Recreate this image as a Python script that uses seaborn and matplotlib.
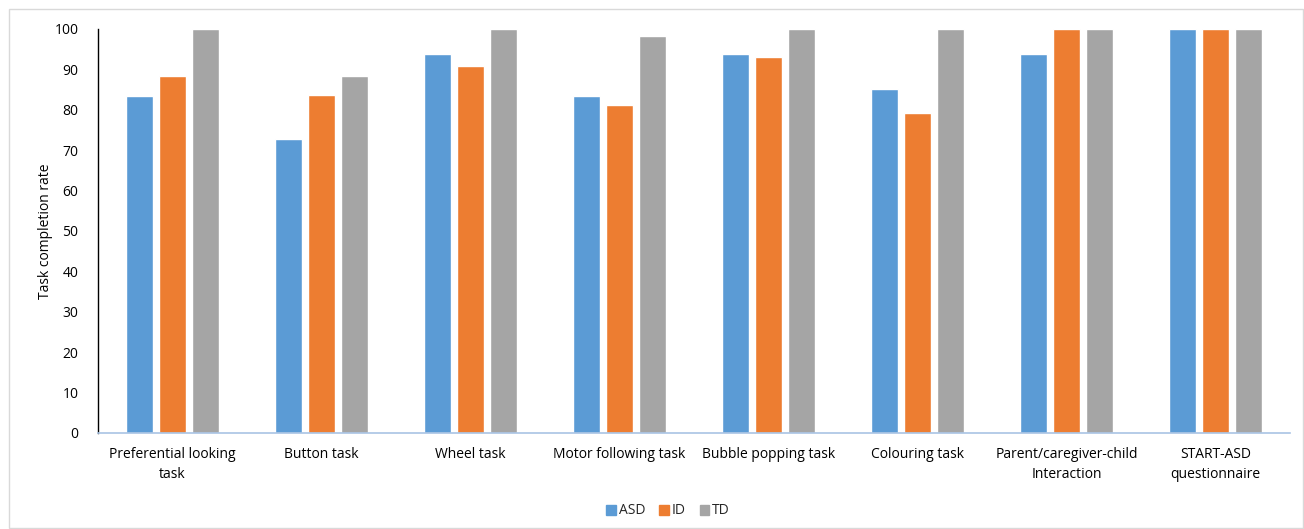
import matplotlib
matplotlib.use("Agg")
import matplotlib.pyplot as plt
import seaborn as sns
import pandas as pd
from matplotlib.patches import Rectangle

categories = ["Preferential looking\ntask", "Button task", "Wheel task", "Motor following task",
              "Bubble popping task", "Colouring task", "Parent/caregiver-child\nInteraction",
              "START-ASD\nquestionnaire"]
asd = [83.3, 72.7, 93.8, 83.3, 93.8, 85.2, 93.8, 100]
id_ = [88.3, 83.6, 90.8, 81.2, 93.1, 79.2, 100, 100]
td = [100, 88.3, 100, 98.2, 100, 100, 100, 100]
groups = ["ASD", "ID", "TD"]
colors = ["#5B9BD5", "#ED7D31", "#A5A5A5"]

rows = []
for c, a, i, t in zip(categories, asd, id_, td):
    rows += [(c, "ASD", a), (c, "ID", i), (c, "TD", t)]
df = pd.DataFrame(rows, columns=["cat", "group", "value"])

sns.set_style("white")
plt.rcParams["font.family"] = ["Open Sans", "DejaVu Sans"]

fig = plt.figure(figsize=(13.04, 5.29), dpi=100)
ax = fig.add_axes([98/1304, 1-433/529, (1290-98)/1304, (433-29)/529])
sns.barplot(data=df, x="cat", y="value", hue="group", order=categories, hue_order=groups,
            palette=colors, width=0.665, gap=0.21, ax=ax, saturation=1, errorbar=None)

ax.set_ylim(0, 100)
ax.set_yticks(range(0, 101, 10))
ax.set_xlim(-0.5, len(categories) - 0.5)
ax.set_xlabel("")
ax.set_ylabel("Task completion rate", fontsize=10, color="#000000", labelpad=1)
ax.tick_params(axis="both", length=0, labelsize=10, colors="#000000")
ax.tick_params(axis="x", pad=10)
ax.tick_params(axis="y", pad=14)
for lbl in ax.get_xticklabels():
    lbl.set_linespacing(1.5)
for s in ["top", "right"]:
    ax.spines[s].set_visible(False)
ax.spines["left"].set_color("#000000")
ax.spines["left"].set_linewidth(1.0)
ax.spines["bottom"].set_color("#A9C4E4")
ax.spines["bottom"].set_linewidth(1.2)

ax.legend_.remove()
handles = [Rectangle((0, 0), 1, 1, color=c) for c in colors]
fig.legend(handles, groups, loc="center", bbox_to_anchor=(668/1304, 1-511/529), ncol=3,
           frameon=False, fontsize=10, handlelength=0.7, handleheight=0.7,
           handletextpad=0.2, columnspacing=1.0)

fig.patches.append(Rectangle((9/1304, 1/529), 1294/1304, 519/529, transform=fig.transFigure,
                             fill=False, edgecolor="#D9D9D9", linewidth=1))

fig.savefig("out.png", dpi=100)
